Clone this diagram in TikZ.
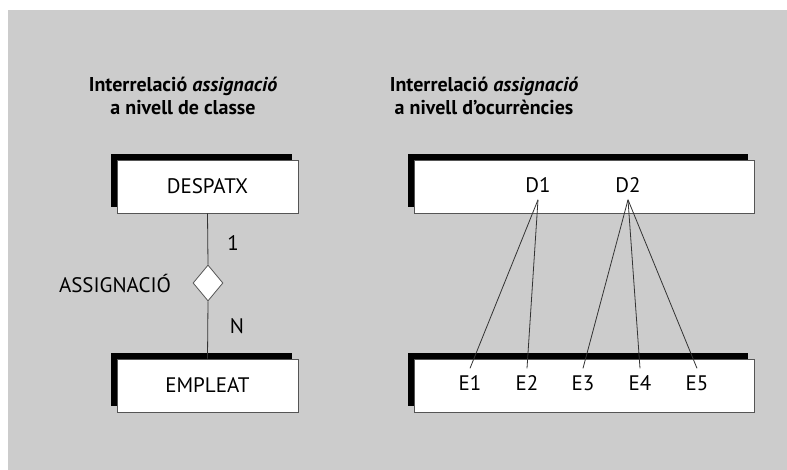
\documentclass[tikz,border=0pt]{standalone}
\usepackage{fontspec}
\setmainfont{PT Sans}
\usetikzlibrary{shapes.geometric,shadows}
\definecolor{bggray}{HTML}{CCCCCC}
\definecolor{linegray}{HTML}{333333}
\definecolor{edgegray}{HTML}{555555}
\begin{document}
\begin{tikzpicture}[x=1pt,y=-1pt,
  entbox/.style={draw=edgegray,line width=0.9pt,fill=white,inner sep=0pt,
    general shadow={fill=black,shadow xshift=-6pt,shadow yshift=6pt}},
  lbl/.style={inner sep=0pt,font=\fontsize{21}{24}\selectfont},
  occ/.style={inner sep=7pt,font=\fontsize{21}{24}\selectfont},
  title/.style={align=center,inner sep=0pt,font=\fontsize{20}{23}\selectfont\bfseries},
  conn/.style={draw=linegray,line width=0.8pt},
  rel/.style={diamond,draw=edgegray,line width=0.8pt,fill=white,inner sep=0pt,
    minimum width=30pt,minimum height=36pt}]
\useasboundingbox (0,0) rectangle (787,470);
\fill[bggray] (8,10) rectangle (787,470);
% titles
\node[title] (t1) at (183,95.5) {Interrelació \textit{assignació}\\a nivell de classe};
\node[title] (t2) at (484,95.5) {Interrelació \textit{assignació}\\a nivell d’ocurrències};
% left side
\node[rel] (r) at (208,283) {};
\node[lbl] (asg) at (115,283) {ASSIGNACIÓ};
\node[lbl] (one) at (233,243) {1};
\node[lbl] (n) at (237,326) {N};
\node[entbox,minimum width=181pt,minimum height=53pt] (desp) at (207.5,186.5) {};
\node[entbox,minimum width=181pt,minimum height=53pt] (empl) at (207.5,385.5) {};
\node[lbl] (desptxt) at (desp.center) {DESPATX};
\node[lbl] (empltxt) at (empl.center) {EMPLEAT};
% right side boxes
\node[entbox,minimum width=340pt,minimum height=53pt] (dbox) at (584,186.5) {};
\node[entbox,minimum width=340pt,minimum height=53pt] (ebox) at (584,385.5) {};
\node[occ] (d1) at (538,185) {D1};
\node[occ] (d2) at (628,185) {D2};
\node[occ] (e1) at (470,383) {E1};
\node[occ] (e2) at (527,383) {E2};
\node[occ] (e3) at (583,383) {E3};
\node[occ] (e4) at (640,383) {E4};
\node[occ] (e5) at (697,383) {E5};
% connectors
\draw[conn] (desp.south) -- (r.north);
\draw[conn] (r.south) -- (empl.north);
\draw[conn] (d1.south) -- (e1.north);
\draw[conn] (d1.south) -- (e2.north);
\draw[conn] (d2.south) -- (e3.north);
\draw[conn] (d2.south) -- (e4.north);
\draw[conn] (d2.south) -- (e5.north);
\end{tikzpicture}
\end{document}
